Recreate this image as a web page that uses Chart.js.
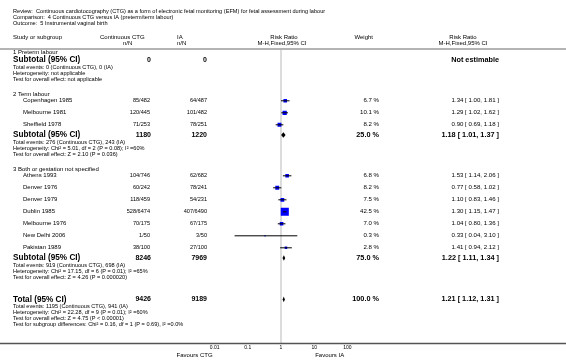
<!DOCTYPE html>
<html>
<head>
<meta charset="utf-8">
<script src="https://cdn.jsdelivr.net/npm/chart.js@4.4.0/dist/chart.umd.min.js"></script>
<style>
  html, body { margin: 0; padding: 0; background: #fff; }
</style>
</head>
<body>
<canvas id="forest" width="566" height="360"></canvas>
<script>
/* ---------- data ---------- */

const groupNames = ["1 Preterm labour", "2 Term labour", "3 Both or gestation not specified"];

const studyNames = ["Copenhagen 1985", "Melbourne 1981", "Sheffield 1978", "Athens 1993", "Denver 1976",
  "Denver 1979", "Dublin 1985", "Melbourne 1976", "New Delhi 2006", "Pakistan 1989"];
const studyGroup = [1, 1, 1, 2, 2, 2, 2, 2, 2, 2];
const ctgEvents = [85, 120, 71, 104, 60, 118, 528, 70, 1, 38];
const ctgTotals = [482, 445, 253, 746, 242, 459, 6474, 175, 50, 100];
const iaEvents = [64, 101, 78, 62, 78, 54, 407, 67, 3, 27];
const iaTotals = [487, 482, 251, 682, 241, 231, 6490, 175, 50, 100];
const weights = [6.7, 10.1, 8.2, 6.8, 8.2, 7.5, 42.5, 7.0, 0.3, 2.8];
const ratios = [1.34, 1.29, 0.90, 1.53, 0.77, 1.10, 1.30, 1.04, 0.33, 1.41];
const ciLow = [1.00, 1.02, 0.69, 1.14, 0.58, 0.83, 1.15, 0.80, 0.04, 0.94];
const ciHigh = [1.81, 1.62, 1.18, 2.06, 1.02, 1.46, 1.47, 1.36, 3.10, 2.12];

// subgroups (index = group)
const subCtgTotal = [0, 1180, 8246];
const subIaTotal = [0, 1220, 7969];
const subCtgEvents = [0, 276, 919];
const subIaEvents = [0, 243, 698];
const subWeight = [null, 25.0, 75.0];
const subRatio = [null, 1.18, 1.22];
const subLow = [null, 1.01, 1.11];
const subHigh = [null, 1.37, 1.34];
const subHetero = ["Heterogeneity: not applicable",
  "Heterogeneity: Chi\u00b2 = 5.01, df = 2 (P = 0.08); I\u00b2 =60%",
  "Heterogeneity: Chi\u00b2 = 17.15, df = 6 (P = 0.01); I\u00b2 =65%"];
const subTest = ["Test for overall effect: not applicable",
  "Test for overall effect: Z = 2.10 (P = 0.036)",
  "Test for overall effect: Z = 4.26 (P = 0.000020)"];

// overall
const totalCtg = 9426, totalIa = 9189, totalCtgEvents = 1195, totalIaEvents = 941;
const totalRatio = 1.21, totalLow = 1.12, totalHigh = 1.31;
const totalNotes = ["Heterogeneity: Chi\u00b2 = 22.28, df = 9 (P = 0.01); I\u00b2 =60%",
  "Test for overall effect: Z = 4.75 (P < 0.00001)",
  "Test for subgroup differences: Chi\u00b2 = 0.16, df = 1 (P = 0.69), I\u00b2 =0.0%"];

const tickValues = [0.01, 0.1, 1, 10, 100];
const tickLabels = ["0.01", "0.1", "1", "10", "100"];

const titleLines = [
  "Review:  Continuous cardiotocography (CTG) as a form of electronic fetal monitoring (EFM) for fetal assessment during labour",
  "Comparison:  4 Continuous CTG versus IA (preterm/term labour)",
  "Outcome:  5 Instrumental vaginal birth"];

/* ---------- row layout (in row units) ---------- */

const rows = [];
let pos = 0.67;
groupNames.forEach((g, gi) => {
  if (gi > 0) pos += 2.4;
  rows.push({ kind: "group", y: pos, g: gi });
  const members = studyNames.map((_, i) => i).filter(i => studyGroup[i] === gi);
  members.forEach((i, k) => {
    pos += k === 0 ? 1.1 : 2;
    rows.push({ kind: "study", y: pos, i: i });
  });
  pos += members.length ? 1.7 : 1.33;
  rows.push({ kind: "subtotal", y: pos, g: gi });
  pos += 1.3;
  rows.push({ kind: "note", y: pos, text: "Total events: " + subCtgEvents[gi] + " (Continuous CTG), " + subIaEvents[gi] + " (IA)" });
  pos += 1;
  rows.push({ kind: "note", y: pos, text: subHetero[gi] });
  pos += 1;
  rows.push({ kind: "note", y: pos, text: subTest[gi] });
});
pos += 3.6;
rows.push({ kind: "total", y: pos });
pos += 1.2;
rows.push({ kind: "note", y: pos, text: "Total events: " + totalCtgEvents + " (Continuous CTG), " + totalIaEvents + " (IA)" });
totalNotes.forEach(t => { pos += 1; rows.push({ kind: "note", y: pos, text: t }); });

const studyY = studyNames.map((_, i) => rows.find(r => r.kind === "study" && r.i === i).y);

/* ---------- datasets ---------- */

const whiskers = [];
studyNames.forEach((_, i) => {
  whiskers.push({ x: ciLow[i], y: studyY[i] }, { x: ciHigh[i], y: studyY[i] }, { x: NaN, y: NaN });
});
const points = studyNames.map((_, i) => ({ x: ratios[i], y: studyY[i] }));

const FONT = '"Liberation Sans", Arial, Helvetica, sans-serif';
const fmt = v => v.toFixed(2);
const ciText = (r, l, h) => fmt(r) + " [ " + fmt(l) + ", " + fmt(h) + " ]";

function text(ctx, s, x, y, size, align, bold) {
  ctx.font = (bold ? "bold " : "") + size + "px " + FONT;
  ctx.textAlign = align;
  ctx.fillText(s, x, y);
}

const forestPlugin = {
  id: "forest",
  beforeDatasetsDraw(chart) {
    const { ctx, scales } = chart;
    const x1 = scales.x.getPixelForValue(1);
    ctx.save();
    ctx.strokeStyle = "#dcdcdc";
    ctx.lineWidth = 2;
    ctx.beginPath();
    ctx.moveTo(x1, 49);
    ctx.lineTo(x1, 343);
    ctx.stroke();
    ctx.restore();
  },
  afterDatasetsDraw(chart) {
    const { ctx, scales } = chart;
    const X = scales.x, Y = scales.y;
    const diamond = (r, l, h, yv) => {
      const y = Y.getPixelForValue(yv);
      ctx.beginPath();
      ctx.moveTo(X.getPixelForValue(l), y);
      ctx.lineTo(X.getPixelForValue(r), y - 2.8);
      ctx.lineTo(X.getPixelForValue(h), y);
      ctx.lineTo(X.getPixelForValue(r), y + 2.8);
      ctx.closePath();
      ctx.fill();
    };
    ctx.save();
    ctx.fillStyle = "#000";
    rows.forEach(r => {
      if (r.kind === "subtotal" && subRatio[r.g] !== null) diamond(subRatio[r.g], subLow[r.g], subHigh[r.g], r.y);
      if (r.kind === "total") diamond(totalRatio, totalLow, totalHigh, r.y);
    });
    ctx.restore();
  },
  afterDraw(chart) {
    const { ctx, scales } = chart;
    const X = scales.x, Y = scales.y;
    const W = chart.width;
    ctx.save();
    ctx.fillStyle = "#000";
    ctx.textBaseline = "middle";

    // title block
    titleLines.forEach((t, k) => text(ctx, t, 13, 11.7 + k * 5.8, 5.6, "left", false));

    // column headers
    text(ctx, "Study or subgroup", 13, 37.5, 6, "left", false);
    text(ctx, "Continuous CTG", 100, 37.5, 6, "left", false);
    text(ctx, "n/N", 123, 43.3, 6, "left", false);
    text(ctx, "IA", 177, 37.5, 6, "left", false);
    text(ctx, "n/N", 177, 43.3, 6, "left", false);
    text(ctx, "Risk Ratio", 284, 37.5, 6, "center", false);
    text(ctx, "M-H,Fixed,95% CI", 282, 43.3, 6, "center", false);
    text(ctx, "Weight", 373, 37.5, 6, "right", false);
    text(ctx, "Risk Ratio", 463, 37.5, 6, "center", false);
    text(ctx, "M-H,Fixed,95% CI", 463, 43.3, 6, "center", false);

    // header rule
    ctx.strokeStyle = "#b4b4b4";
    ctx.lineWidth = 2;
    ctx.beginPath();
    ctx.moveTo(0, 49);
    ctx.lineTo(W, 49);
    ctx.stroke();

    rows.forEach(r => {
      const y = Y.getPixelForValue(r.y);
      if (r.kind === "group") {
        text(ctx, groupNames[r.g], 13, y, 6, "left", false);
      } else if (r.kind === "study") {
        const i = r.i;
        text(ctx, studyNames[i], 23, y, 6, "left", false);
        text(ctx, ctgEvents[i] + "/" + ctgTotals[i], 150, y, 5.6, "right", false);
        text(ctx, iaEvents[i] + "/" + iaTotals[i], 207, y, 5.6, "right", false);
        text(ctx, weights[i].toFixed(1) + " %", 379, y, 6.1, "right", false);
        text(ctx, ciText(ratios[i], ciLow[i], ciHigh[i]), 499, y, 6.1, "right", false);
      } else if (r.kind === "subtotal") {
        const g = r.g;
        text(ctx, "Subtotal (95% CI)", 13, y, 8.2, "left", true);
        text(ctx, String(subCtgTotal[g]), 151, y, 7, "right", true);
        text(ctx, String(subIaTotal[g]), 207, y, 7, "right", true);
        if (subRatio[g] === null) {
          text(ctx, "Not estimable", 499, y, 7.3, "right", true);
        } else {
          text(ctx, subWeight[g].toFixed(1) + " %", 379, y, 7.3, "right", true);
          text(ctx, ciText(subRatio[g], subLow[g], subHigh[g]), 499, y, 7.3, "right", true);
        }
      } else if (r.kind === "total") {
        text(ctx, "Total (95% CI)", 13, y, 8.2, "left", true);
        text(ctx, String(totalCtg), 151, y, 7, "right", true);
        text(ctx, String(totalIa), 207, y, 7, "right", true);
        text(ctx, "100.0 %", 379, y, 7.3, "right", true);
        text(ctx, ciText(totalRatio, totalLow, totalHigh), 499, y, 7.3, "right", true);
      } else {
        text(ctx, r.text, 13, y, 5.6, "left", false);
      }
    });

    // bottom rule
    ctx.strokeStyle = "#555";
    ctx.lineWidth = 1.5;
    ctx.beginPath();
    ctx.moveTo(0, 343.5);
    ctx.lineTo(W, 343.5);
    ctx.stroke();

    // favours labels
    text(ctx, "Favours CTG", X.getPixelForValue(0.01) - 2, 355, 6, "right", false);
    text(ctx, "Favours IA", X.getPixelForValue(10) + 1, 355, 6, "left", false);
    ctx.restore();
  }
};

new Chart(document.getElementById("forest"), {
  type: "scatter",
  plugins: [forestPlugin],
  data: {
    datasets: [
      {
        data: whiskers,
        showLine: true,
        spanGaps: false,
        borderColor: "#000",
        borderWidth: 1,
        pointRadius: 0,
        order: 0
      },
      {
        data: points,
        pointStyle: "rect",
        pointRadius: ctx => (7.5 * Math.sqrt(weights[ctx.dataIndex] / 42.5) + 0.6) / Math.SQRT2,
        backgroundColor: "#0000ff",
        borderWidth: 0,
        order: 1
      }
    ]
  },
  options: {
    responsive: false,
    animation: false,
    events: [],
    layout: { padding: { left: 214.6, right: 218.6, top: 48, bottom: 10 } },
    scales: {
      x: {
        type: "logarithmic",
        min: 0.01,
        max: 100,
        grid: { display: false, drawTicks: false },
        border: { display: false },
        afterBuildTicks: scale => { scale.ticks = tickValues.map(v => ({ value: v })); },
        afterFit: scale => { scale.height = 8; },
        ticks: {
          color: "#000",
          font: { size: 5, family: FONT },
          padding: 3,
          maxRotation: 0,
          autoSkip: false,
          callback: (v, i) => tickLabels[i]
        }
      },
      y: { type: "linear", display: false, min: 0, max: 49, reverse: true }
    },
    plugins: { legend: { display: false }, tooltip: { enabled: false } }
  }
});
</script>
</body>
</html>
